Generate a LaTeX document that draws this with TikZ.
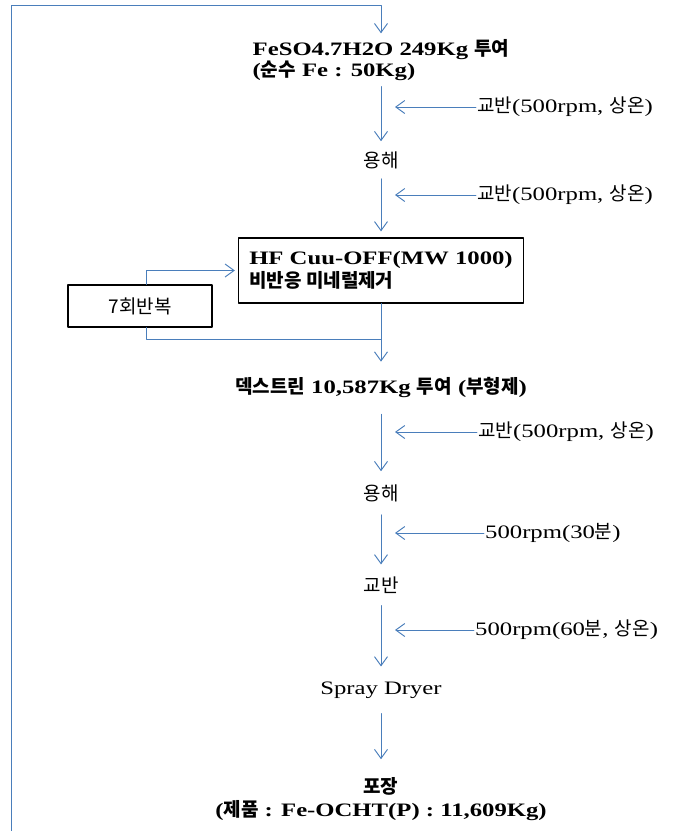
\documentclass[tikz,border=0pt]{standalone}
\usepackage{fontspec}
\setmainfont{Liberation Serif}[FakeStretch=1.3]
\newfontfamily\krfont{Noto Sans CJK KR}
\newcommand\kr[1]{{\krfont #1}}
\usetikzlibrary{arrows.meta}
\definecolor{flowblue}{RGB}{74,126,187}

\begin{document}
\begin{tikzpicture}[x=1pt,y=-1pt,line cap=round,line join=round,
    flow/.style={draw=flowblue,line width=0.95pt,-{Straight Barb[length=9pt,width=13pt]}},
    link/.style={draw=flowblue,line width=0.95pt},
    stage/.style={inner xsep=0pt,inner ysep=10pt,font=\fontsize{19}{23}\selectfont},
    stageb/.style={stage,font=\fontsize{19}{23}\selectfont\bfseries},
    cond/.style={anchor=west,inner sep=1pt,font=\fontsize{19}{23}\selectfont}]
        \useasboundingbox (0,0) rectangle (688,831);
        \coordinate (bl) at (11,831);
        \coordinate (tl) at (11,5);
        \coordinate (tip) at (395,0);
        \coordinate (loopx) at (146,0);
        \coordinate (merge) at (381,339);

        \node[stageb,align=left,inner ysep=6pt,font=\fontsize{19}{17}\selectfont\bfseries] (feso) at (381,60)
            {FeSO4.7H2O 249Kg \kr{투여}\\(\kr{순수} Fe : 50Kg)};
        \node[stage] (melt1) at (381,160) {\kr{용해}};
        \node[draw,line width=1.3pt,minimum width=285pt,minimum height=65pt,inner sep=0pt,align=left,
            font=\fontsize{19}{23}\selectfont\bfseries] (hf) at (381,270.5)
            {HF Cuu-OFF(MW 1000)\\\kr{비반응 미네럴제거}};
        \node[draw,line width=1.1pt,minimum width=144pt,minimum height=42pt,
            font=\fontsize{19}{22}\selectfont\krfont] (rep) at (140,306) {7회반복};
        \node[stageb,inner ysep=16pt] (dext) at (381,388)
            {\kr{덱스트린} 10,587Kg \kr{투여} (\kr{부형제})};
        \node[stage,inner ysep=13pt] (melt2) at (381,493) {\kr{용해}};
        \node[stage,inner ysep=12pt] (stir) at (381,585) {\kr{교반}};
        \node[stage,inner ysep=15pt] (dryer) at (381,690) {Spray Dryer};
        \node[stageb,align=center,inner ysep=18pt] (pack) at (381,799)
            {\kr{포장}\\(\kr{제품} : Fe-OCHT(P) : 11,609Kg)};

        \node[cond] (c1) at (476,107) {\kr{교반}(500rpm, \kr{상온})};
        \node[cond] (c2) at (476,195) {\kr{교반}(500rpm, \kr{상온})};
        \node[cond] (c3) at (477,432) {\kr{교반}(500rpm, \kr{상온})};
        \node[cond] (c4) at (484,533) {500rpm(30\kr{분})};
        \node[cond] (c5) at (474,630) {500rpm(60\kr{분}, \kr{상온})};
        \foreach \c in {c1,c2,c3,c4,c5}
            \draw[flow] (\c.west) -- (\c.west -| tip);

        \draw[flow] (bl) -- (tl) -| (feso.north);
        \draw[flow] (feso.south) -- (melt1.north);
        \draw[flow,shorten >=6pt] (melt1.south) -- (hf.north);
        \draw[flow] (hf.south) -- (dext.north);
        \draw[flow,shorten >=3pt] (rep.north -| loopx) |- (hf.west);
        \draw[link] (rep.south -| loopx) |- (merge);
        \draw[flow] (dext.south) -- (melt2.north);
        \draw[flow] (melt2.south) -- (stir.north);
        \draw[flow] (stir.south) -- (dryer.north);
        \draw[flow] (dryer.south) -- (pack.north);
    \end{tikzpicture}
\end{document}
